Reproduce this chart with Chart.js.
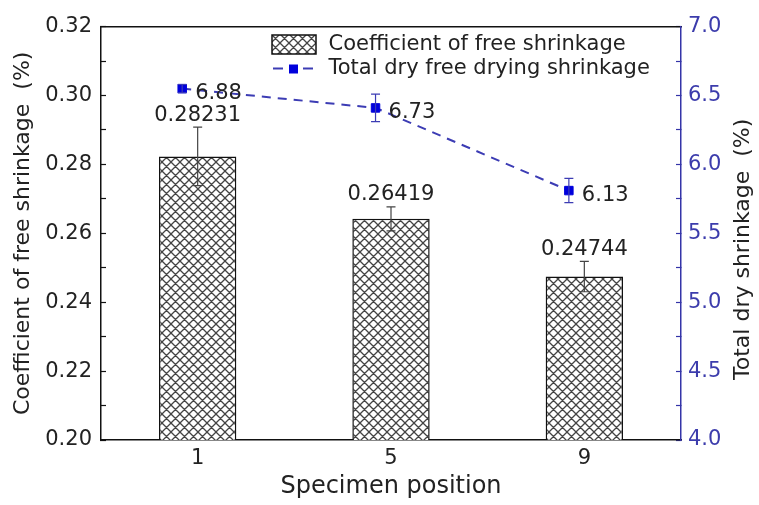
<!DOCTYPE html>
<html>
<head>
<meta charset="utf-8">
<script src="https://cdn.jsdelivr.net/npm/chart.js@4.4.1/dist/chart.umd.min.js"></script>
<style>
  html, body { margin: 0; padding: 0; background: #fff; }
</style>
</head>
<body>
<canvas id="chart1" width="759" height="505"></canvas>
<script>
// specimen positions (x axis)
var categories = ['1', '5', '9'];

// coefficient of free shrinkage (%), left axis
var barValues = [0.28231, 0.26419, 0.24744];
var barErrors = [0.0085, 0.0035, 0.0044];

// total dry shrinkage (%), right axis
// markers sit a little left of the bar centres
var dryX = [0.92, 1.92, 2.92];
var dryValues = [6.55, 6.41, 5.81];
var dryErrors = [0.03, 0.10, 0.088];
var dryLabels = ['6.88', '6.73', '6.13'];

// axis ranges
var leftRange = [0.20, 0.32];
var rightRange = [4.0, 7.0];

var FONT = 'DejaVu Sans';
var BLUE_AXIS = '#3434a8';
var BLUE_LINE = '#3c3cb4';
var BLUE_MARK = '#0000dc';

Chart.defaults.font.family = FONT;
Chart.defaults.color = '#222';

// cross hatch fill for the bars
function hatchCanvas(size)
{
    var c = document.createElement('canvas');
    c.width = size; c.height = size;
    var g = c.getContext('2d');
    g.fillStyle = '#fff';
    g.fillRect(0, 0, size, size);
    g.strokeStyle = '#444';
    g.lineWidth = 1.3;
    g.beginPath();
    for (var k = -1; k <= 1; k++) {
        g.moveTo(k * size, 0); g.lineTo(k * size + size, size);
        g.moveTo(k * size + size, 0); g.lineTo(k * size, size);
    }
    g.stroke();
    return c;
}
var hatch = document.createElement('canvas').getContext('2d').createPattern(hatchCanvas(9), 'repeat');

// legend icons
function barIcon()
{
    var c = document.createElement('canvas');
    c.width = 46; c.height = 21;
    var g = c.getContext('2d');
    g.fillStyle = g.createPattern(hatchCanvas(9), 'repeat');
    g.fillRect(1, 1, 44, 19);
    g.strokeStyle = '#111';
    g.lineWidth = 1.5;
    g.strokeRect(1, 1, 44, 19);
    return c;
}
function lineIcon()
{
    var c = document.createElement('canvas');
    c.width = 46; c.height = 12;
    var g = c.getContext('2d');
    g.strokeStyle = BLUE_LINE;
    g.lineWidth = 2;
    g.beginPath();
    g.moveTo(2, 6); g.lineTo(12, 6);
    g.moveTo(32, 6); g.lineTo(42, 6);
    g.stroke();
    g.fillStyle = BLUE_MARK;
    g.fillRect(18, 2, 9, 9);
    return c;
}

var dryData = [];
for (var i = 0; i < dryX.length; i++) {
    dryData.push({ x: dryX[i], y: dryValues[i] });
}

// error bars, value labels, right axis title, legend placement
var extras = {
    id: 'extras',
    afterLayout: function (chart) {
        var lg = chart.legend;
        var w = lg.width, h = lg.height;
        lg.left = 267; lg.top = 31;
        lg.right = lg.left + w; lg.bottom = lg.top + h;
    },
    afterDatasetsDraw: function (chart) {
        var ctx = chart.ctx;
        chart.data.datasets.forEach(function (ds, di) {
            var meta = chart.getDatasetMeta(di);
            var ys = chart.scales[ds.yAxisID];
            meta.data.forEach(function (el, j) {
                var v = ds.type === 'line' ? ds.data[j].y : ds.data[j];
                var e = ds.errors[j];
                var yHi = ys.getPixelForValue(v + e);
                var yLo = ys.getPixelForValue(v - e);
                ctx.save();
                ctx.strokeStyle = ds.errColor;
                ctx.lineWidth = 1.2;
                ctx.beginPath();
                ctx.moveTo(el.x, yHi); ctx.lineTo(el.x, yLo);
                ctx.moveTo(el.x - ds.capHalf, yHi); ctx.lineTo(el.x + ds.capHalf, yHi);
                ctx.moveTo(el.x - ds.capHalf, yLo); ctx.lineTo(el.x + ds.capHalf, yLo);
                ctx.stroke();
                ctx.fillStyle = '#222';
                ctx.font = '21px "' + FONT + '"';
                ctx.textBaseline = 'middle';
                if (ds.type === 'line') {
                    ctx.textAlign = 'left';
                    ctx.fillText(dryLabels[j], el.x + 13, el.y + 5);
                } else {
                    ctx.textAlign = 'center';
                    ctx.fillText(v.toFixed(5), el.x, yHi - 12);
                }
                ctx.restore();
            });
        });
    },
    afterDraw: function (chart) {
        var ctx = chart.ctx;
        ctx.save();
        ctx.translate(743, (chart.chartArea.top + chart.chartArea.bottom) / 2 + 16);
        ctx.rotate(-Math.PI / 2);
        ctx.font = '22px "' + FONT + '"';
        ctx.fillStyle = '#222';
        ctx.textAlign = 'center';
        ctx.textBaseline = 'middle';
        ctx.fillText('Total dry shrinkage  (%)', 0, 0);
        ctx.restore();
    }
};

new Chart(document.getElementById('chart1'), {
    type: 'bar',
    data: {
        labels: categories,
        datasets: [
            {
                label: 'Coefficient of free shrinkage',
                data: barValues,
                errors: barErrors,
                errColor: '#444',
                capHalf: 4.5,
                xAxisID: 'x',
                yAxisID: 'y',
                order: 1,
                grouped: false,
                backgroundColor: hatch,
                borderColor: '#111',
                borderWidth: 1.5,
                borderSkipped: false,
                barPercentage: 0.4,
                categoryPercentage: 1
            },
            {
                type: 'line',
                label: 'Total dry free drying shrinkage',
                data: dryData,
                errors: dryErrors,
                errColor: BLUE_LINE,
                capHalf: 4.5,
                xAxisID: 'xl',
                yAxisID: 'y2',
                order: 0,
                borderColor: BLUE_LINE,
                borderWidth: 2,
                borderDash: [9, 7],
                fill: false,
                tension: 0,
                pointStyle: 'rect',
                pointRadius: 6,
                pointBackgroundColor: BLUE_MARK,
                pointBorderColor: BLUE_MARK,
                pointBorderWidth: 1
            }
        ]
    },
    options: {
        responsive: false,
        animation: false,
        layout: { padding: { top: 16, left: 0, right: 0, bottom: 0 } },
        plugins: {
            tooltip: { enabled: false },
            legend: {
                position: 'chartArea',
                align: 'start',
                labels: {
                    usePointStyle: true,
                    pointStyleWidth: 48,
                    padding: 3,
                    color: '#222',
                    font: { size: 21 },
                    generateLabels: function (chart) {
                        var items = Chart.defaults.plugins.legend.labels.generateLabels(chart);
                        items.forEach(function (it) {
                            it.pointStyle = chart.data.datasets[it.datasetIndex].type === 'line' ? lineIcon() : barIcon();
                        });
                        items.sort(function (a, b) { return a.datasetIndex - b.datasetIndex; });
                        return items;
                    }
                }
            }
        },
        scales: {
            x: {
                position: 'bottom',
                grid: { drawOnChartArea: false, drawTicks: false },
                border: { color: '#111', width: 1.5 },
                ticks: { font: { size: 21 }, color: '#222', padding: 6 },
                title: { display: true, text: 'Specimen position', font: { size: 24 }, color: '#222', padding: { top: 0, bottom: 4 } },
                afterFit: function (s) { s.height = 65; }
            },
            xl: {
                type: 'linear',
                position: 'top',
                offset: false,
                min: 0.5,
                max: 3.5,
                ticks: { display: false },
                grid: { drawOnChartArea: false, drawTicks: false, offset: false },
                border: { color: '#111', width: 1.5 },
                afterFit: function (s) { s.height = 0; }
            },
            y: {
                position: 'left',
                min: leftRange[0],
                max: leftRange[1],
                grid: { drawOnChartArea: false, tickLength: -5, color: '#111', tickWidth: 1.2 },
                border: { color: '#111', width: 1.5 },
                ticks: {
                    stepSize: 0.01,
                    padding: 14,
                    font: { size: 21 },
                    color: '#222',
                    callback: function (v) {
                        return Math.round(v * 100) % 2 === 0 ? v.toFixed(2) : '';
                    }
                },
                title: { display: true, text: 'Coefficient of free shrinkage  (%)', font: { size: 22 }, color: '#222', padding: { top: 10, bottom: 0 } },
                afterFit: function (s) { s.width = 101; }
            },
            y2: {
                position: 'right',
                min: rightRange[0],
                max: rightRange[1],
                grid: { drawOnChartArea: false, tickLength: -5, color: BLUE_AXIS, tickWidth: 1.2 },
                border: { color: BLUE_AXIS, width: 1.5 },
                ticks: {
                    stepSize: 0.25,
                    padding: 12,
                    font: { size: 21 },
                    color: '#3c3cac',
                    callback: function (v) {
                        return Math.round(v * 4) % 2 === 0 ? v.toFixed(1) : '';
                    }
                },
                afterFit: function (s) { s.width = 78; }
            }
        }
    },
    plugins: [extras]
});
</script>
</body>
</html>
